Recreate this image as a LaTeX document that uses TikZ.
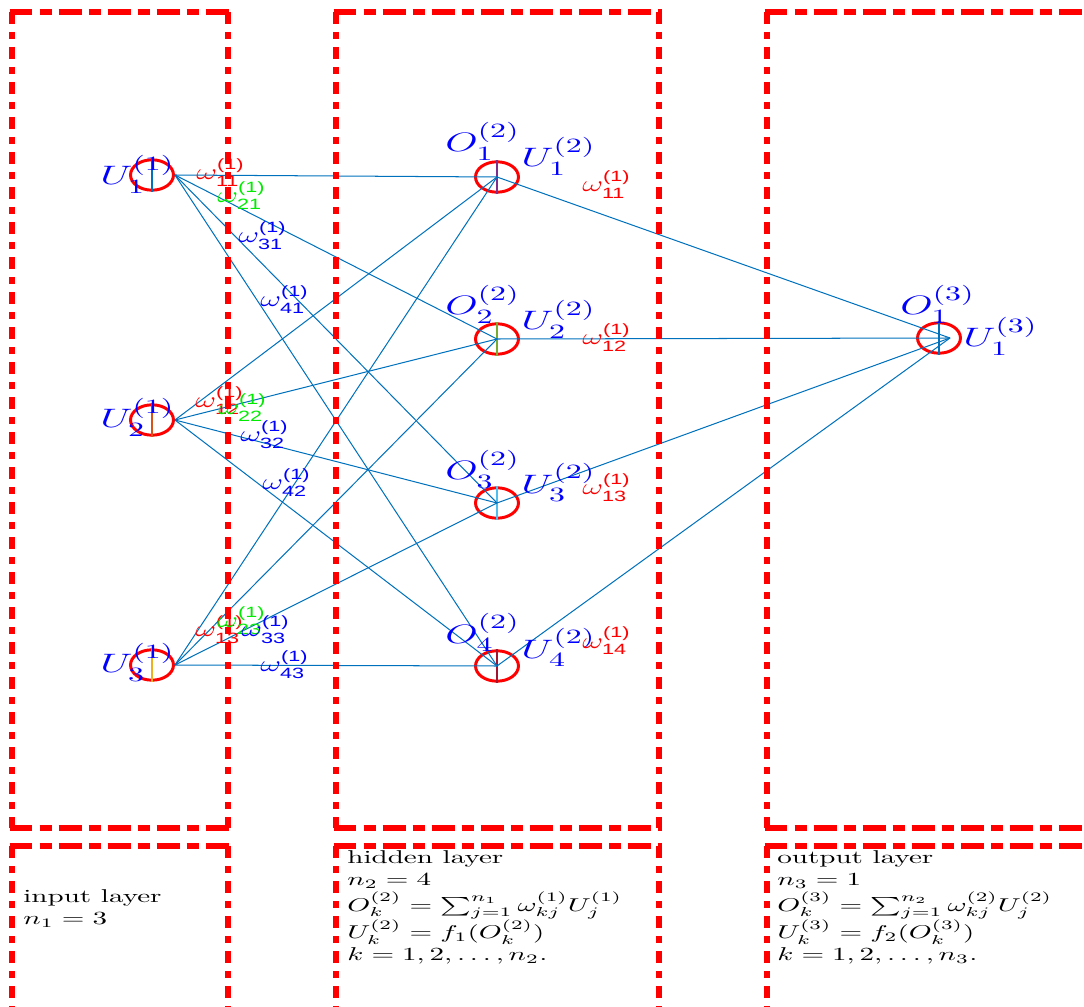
\documentclass[tikz,border=0pt]{standalone}
\usepackage{amsmath}
\usepackage{fontspec}
\setsansfont{Liberation Sans}
\usepackage{graphicx}
\usetikzlibrary{shapes.geometric}
\definecolor{mblue}{RGB}{0,114,189}
\definecolor{morange}{RGB}{217,83,25}
\definecolor{myellow}{RGB}{237,177,32}
\definecolor{mpurple}{RGB}{126,47,142}
\definecolor{mgreen}{RGB}{119,172,48}
\definecolor{mcyan}{RGB}{77,190,238}
\definecolor{mdarkred}{RGB}{162,20,47}
\definecolor{lgreen}{RGB}{0,235,0}
\newcommand\hx[1]{\scalebox{1.57}[1]{#1}}
\newcommand\wlab[1]{\scalebox{1.45}[1]{$\omega^{\textsf{(1)}}_{\textsf{#1}}$}}
\newcommand\layerbox[4]{%
  \draw[hb] (#1-2.5,#2) -- (#3+2.5,#2);
  \draw[hb] (#1-2.5,#4) -- (#3+2.5,#4);
  \draw[vb] (#1,#2) -- (#1,#4);
  \draw[vb] (#3,#2) -- (#3,#4);}
\begin{document}
\begin{tikzpicture}[x=0.54pt,y=-0.54pt,
  neuron/.style={ellipse, draw=red, line width=1.6pt, minimum width=23.2pt, minimum height=16.4pt, inner sep=0pt},
  conn/.style={draw=mblue, line width=0.55pt},
  vline/.style={line width=0.6pt},
  hb/.style={draw=red, line width=2.8pt, dash pattern=on 12.4pt off 3.8pt on 6.5pt off 3.8pt},
  vb/.style={draw=red, line width=2.8pt, dash pattern=on 6.5pt off 4.3pt on 3.8pt off 4.3pt},
  nlab/.style={anchor=base west, inner sep=0pt, text=blue, font=\fontsize{15.8}{19}\selectfont},
  wlab/.style={anchor=base west, inner sep=0pt, font=\fontsize{11.5}{14}\selectfont},
  txt/.style={anchor=base west, inner sep=0pt, font=\normalsize}]
\useasboundingbox (0,0) rectangle (1084,1007);
\clip (0,0) rectangle (1084,1007);

% neurons
\node[neuron] (i1) at (152,175) {};
\node[neuron] (i2) at (152,420) {};
\node[neuron] (i3) at (152,665) {};
\node[neuron] (h1) at (497,177) {};
\node[neuron] (h2) at (497,339) {};
\node[neuron] (h3) at (497,503) {};
\node[neuron] (h4) at (497,666) {};
\node[neuron] (o1) at (939,338) {};
\coordinate (oc) at (950,338);

% inner vertical lines
\draw[vline, mblue] (i1.north) -- (i1.south);
\draw[vline, morange] (i2.north) -- (i2.south);
\draw[vline, myellow] (i3.north) -- (i3.south);
\draw[vline, mpurple] (h1.north) -- (h1.south);
\draw[vline, mgreen] (h2.north) -- (h2.south);
\draw[vline, mcyan] (h3.north) -- (h3.south);
\draw[vline, mdarkred] (h4.north) -- (h4.south);
\draw[vline, mblue] (o1.north) -- (o1.south);

% connections
\foreach \i in {1,2,3}{
  \foreach \j in {1,2,3,4}{
    \draw[conn] (i\i.east) -- (h\j.center);
  }
}
\foreach \j in {1,2,3,4}{
  \draw[conn] (h\j.center) -- (oc);
}

% neuron labels
\node[nlab] (li1) at (100,185) {\hx{$U_1^{(1)}$}};
\node[nlab] (li2) at (100,428) {\hx{$U_2^{(1)}$}};
\node[nlab] (li3) at (100,673) {\hx{$U_3^{(1)}$}};
\node[nlab] (lo1) at (445,152) {\hx{$O_1^{(2)}$}};
\node[nlab] (lo2) at (445,315) {\hx{$O_2^{(2)}$}};
\node[nlab] (lo3) at (445,480) {\hx{$O_3^{(2)}$}};
\node[nlab] (lo4) at (445,643) {\hx{$O_4^{(2)}$}};
\node[nlab] (lu1) at (521,167) {\hx{$U_1^{(2)}$}};
\node[nlab] (lu2) at (521,330) {\hx{$U_2^{(2)}$}};
\node[nlab] (lu3) at (521,493) {\hx{$U_3^{(2)}$}};
\node[nlab] (lu4) at (521,658) {\hx{$U_4^{(2)}$}};
\node[nlab] (loo) at (900,315) {\hx{$O_1^{(3)}$}};
\node[nlab] (luo) at (963,347) {\hx{$U_1^{(3)}$}};

% weight labels
\node[wlab, text=red]   (w11) at (196,180) {\wlab{11}};
\node[wlab, text=lgreen] (w21) at (217,203) {\wlab{21}};
\node[wlab, text=blue]  (w31) at (238,243) {\wlab{31}};
\node[wlab, text=blue]  (w41) at (260,307) {\wlab{41}};
\node[wlab, text=red]   (w12) at (195,408) {\wlab{12}};
\node[wlab, text=lgreen] (w22) at (218,415) {\wlab{22}};
\node[wlab, text=blue]  (w32) at (240,442) {\wlab{32}};
\node[wlab, text=blue]  (w42) at (262,490) {\wlab{42}};
\node[wlab, text=red]   (w13) at (195,637) {\wlab{13}};
\node[wlab, text=lgreen] (w23) at (217,628) {\wlab{23}};
\node[wlab, text=blue]  (w33) at (241,637) {\wlab{33}};
\node[wlab, text=blue]  (w43) at (260,672) {\wlab{43}};
\node[wlab, text=red]   (v11) at (582,192) {\wlab{11}};
\node[wlab, text=red]   (v12) at (582,345) {\wlab{12}};
\node[wlab, text=red]   (v13) at (582,495) {\wlab{13}};
\node[wlab, text=red]   (v14) at (582,648) {\wlab{14}};

% layer boxes
\layerbox{12}{12}{228}{828}
\layerbox{336}{12}{659}{828}
\layerbox{767}{12}{1120}{828}
\layerbox{12}{846}{228}{1040}
\layerbox{336}{846}{659}{1040}
\layerbox{767}{846}{1120}{1040}

% descriptions
\node[txt] (tin) at (23,902) {\hx{\begin{tabular}[t]{@{}l@{}}input layer\\ $n_1=3$\end{tabular}}};
\node[txt] (thid) at (347,863) {\hx{\begin{tabular}[t]{@{}l@{}}hidden layer\\ $n_2=4$\\ $O_k^{(2)}=\sum_{j=1}^{n_1}\omega_{kj}^{(1)}U_j^{(1)}$\\ $U_k^{(2)}=f_1(O_k^{(2)})$\\ $k=1,2,\ldots,n_2.$\end{tabular}}};
\node[txt] (tout) at (777,863) {\hx{\begin{tabular}[t]{@{}l@{}}output layer\\ $n_3=1$\\ $O_k^{(3)}=\sum_{j=1}^{n_2}\omega_{kj}^{(2)}U_j^{(2)}$\\ $U_k^{(3)}=f_2(O_k^{(3)})$\\ $k=1,2,\ldots,n_3.$\end{tabular}}};
\end{tikzpicture}
\end{document}
